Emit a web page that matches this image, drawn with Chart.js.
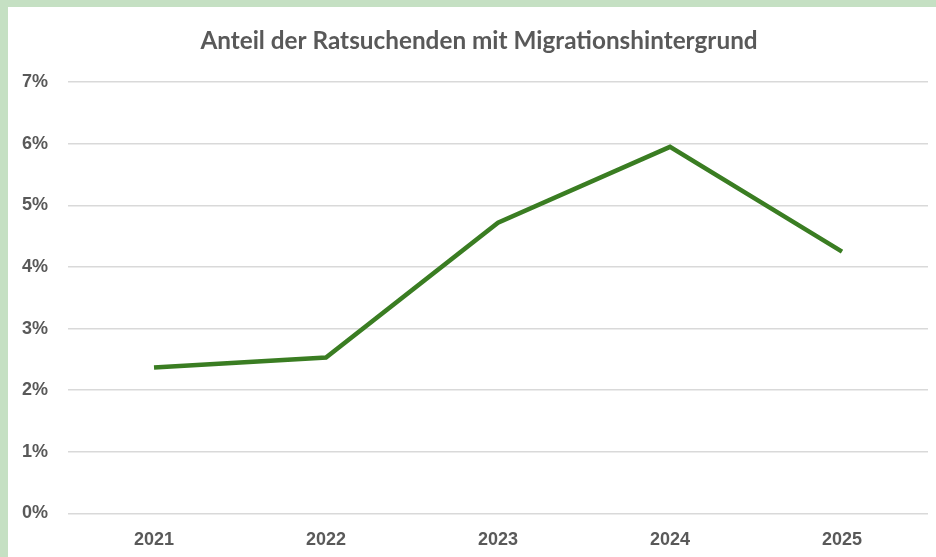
<!DOCTYPE html>
<html lang="de">
<head>
<meta charset="utf-8">
<script src="https://cdn.jsdelivr.net/npm/chart.js@4.4.1/dist/chart.umd.min.js"></script>
<style>
  html, body { margin: 0; padding: 0; }
  body { width: 936px; height: 557px; background: #c5e0c3; overflow: hidden; position: relative; }
  .panel { position: absolute; left: 8px; top: 7px; width: 928px; height: 566px; background: #fff; }
</style>
</head>
<body>
<div class="panel"><canvas id="chart" width="928" height="566"></canvas></div>
<script>
// Jahre und Anteil in Prozent
const years = ["2021", "2022", "2023", "2024", "2025"];
const shareValues = [2.37, 2.53, 4.72, 5.95, 4.25];
const yTicks = [0, 1, 2, 3, 4, 5, 6, 7];

const textColor = '#595959';

// Titel etwas nach rechts schieben (Excel zentriert über dem Diagrammbereich)
const shiftTitle = {
  id: 'shiftTitle',
  afterLayout(chart) {
    if (chart.titleBlock) chart.titleBlock.left += 22;
  }
};

const ctx = document.getElementById("chart").getContext("2d");
new Chart(ctx, {
  type: 'line',
  data: {
    labels: years,
    datasets: [{
      label: 'Anteil',
      data: shareValues,
      borderColor: '#3a7d22',
      borderWidth: 4.5,
      pointRadius: 0,
      tension: 0,
      fill: false
    }]
  },
  options: {
    responsive: false,
    animation: false,
    layout: { padding: { left: 0, right: 8, top: 0, bottom: 6 } },
    plugins: {
      legend: { display: false },
      tooltip: { enabled: false },
      title: {
        display: true,
        text: 'Anteil der Ratsuchenden mit Migrationshintergrund',
        color: textColor,
        font: { family: 'Lato', size: 24.3, weight: 'bold' },
        padding: { top: 20, bottom: 26 }
      }
    },
    scales: {
      x: {
        offset: true,
        grid: { display: false, drawTicks: false },
        border: { display: false },
        ticks: {
          color: textColor,
          font: { family: 'Liberation Sans', size: 18, weight: 'bold' },
          padding: 16
        }
      },
      y: {
        min: 0,
        max: 7,
        afterFit: scale => { scale.width = 60; },
        afterBuildTicks: scale => { scale.ticks = yTicks.map(v => ({ value: v })); },
        grid: { color: '#d9d9d9', lineWidth: 1.5, drawTicks: false },
        border: { display: false },
        ticks: {
          color: textColor,
          font: { family: 'Liberation Sans', size: 18, weight: 'bold' },
          padding: 20,
          callback: v => v + '%'
        }
      }
    }
  },
  plugins: [shiftTitle]
});
</script>
</body>
</html>
